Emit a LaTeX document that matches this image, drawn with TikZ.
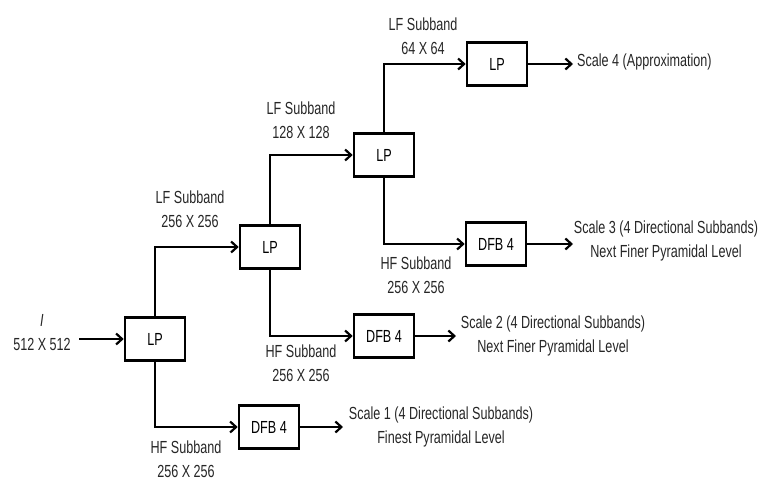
\documentclass[tikz,border=0pt]{standalone}
\usepackage{fontspec}
\setmainfont{Liberation Sans}[FakeStretch=0.72]
\usetikzlibrary{arrows.meta}
\begin{document}
\begin{tikzpicture}[x=1pt,y=-1pt,
  blk/.style={draw=black,line width=2.6pt,fill=white,minimum width=60pt,minimum height=43pt,inner sep=0pt,font=\fontsize{17.5}{19}\selectfont},
  lbl/.style={align=center,text=black!85,font=\fontsize{17.5}{24}\selectfont,inner sep=0pt},
  conn/.style={line width=2.8pt,-{Straight Barb[length=6pt,width=11pt,line width=2.2pt]}}]
\useasboundingbox (0,0) rectangle (759,483);
\node[blk] (lp1) at (155,339) {LP};
\node[blk] (lp2) at (270,247) {LP};
\node[blk] (lp3) at (384,155) {LP};
\node[blk] (lp4) at (497,64) {LP};
\node[blk] (dfb1) at (269,427) {DFB 4};
\node[blk] (dfb2) at (384,336) {DFB 4};
\node[blk] (dfb3) at (496,244) {DFB 4};
% input
\node[lbl] (inp) at (42,333) {\textit{I}\\512 X 512};
\coordinate (inS) at (79,339);
\draw[conn] (inS) -- (lp1.west);
% LP1 branches
\draw[conn] (lp1.north) |- (lp2.west);
\draw[conn] (lp1.south) |- (dfb1.west);
% LP2 branches
\draw[conn] (lp2.north) |- (lp3.west);
\draw[conn] (lp2.south) |- (dfb2.west);
% LP3 branches
\draw[conn] (lp3.north) |- (lp4.west);
\draw[conn] (lp3.south) |- (dfb3.west);
% outputs
\coordinate (o4) at (573,64);
\coordinate (o3) at (573,244);
\coordinate (o2) at (456,336);
\coordinate (o1) at (343,427);
\draw[conn] (lp4.east) -- (o4);
\draw[conn] (dfb3.east) -- (o3);
\draw[conn] (dfb2.east) -- (o2);
\draw[conn] (dfb1.east) -- (o1);
\node[lbl,anchor=west] (t4) at (577,62) {Scale 4 (Approximation)};
\node[lbl] (t3) at (666,241) {Scale 3 (4 Directional Subbands)\\Next Finer Pyramidal Level};
\node[lbl] (t2) at (553,336) {Scale 2 (4 Directional Subbands)\\Next Finer Pyramidal Level};
\node[lbl] (t1) at (441,427) {Scale 1 (4 Directional Subbands)\\Finest Pyramidal Level};
% subband labels
\node[lbl] (l1) at (190,209) {LF Subband\\256 X 256};
\node[lbl] (h1) at (186,459) {HF Subband\\256 X 256};
\node[lbl] (l2) at (301,120) {LF Subband\\128 X 128};
\node[lbl] (h2) at (301,363) {HF Subband\\256 X 256};
\node[lbl] (l3) at (423,36) {LF Subband\\64 X 64};
\node[lbl] (h3) at (416,275) {HF Subband\\256 X 256};
\end{tikzpicture}
\end{document}
